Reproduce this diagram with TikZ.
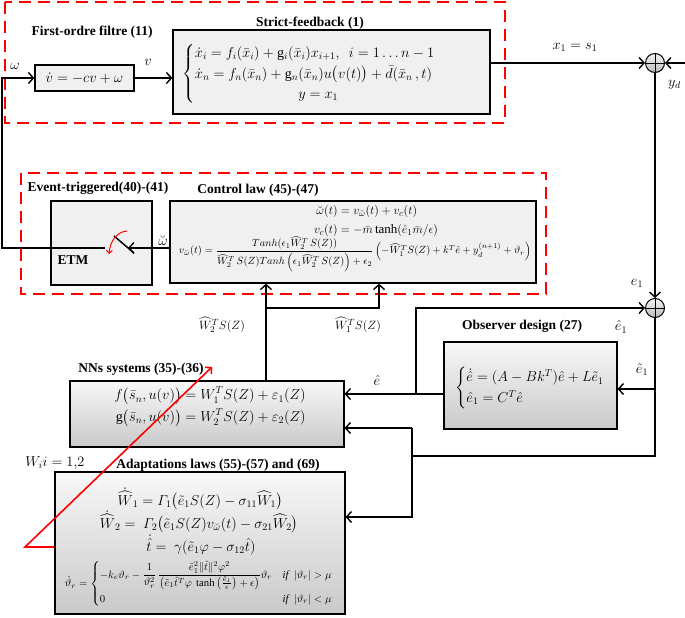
\documentclass[tikz,border=0pt]{standalone}
\usepackage{amsmath,amssymb}
\usepackage{fontspec}
\setmainfont{Liberation Serif}
\usetikzlibrary{arrows.meta}
\begin{document}
\begin{tikzpicture}[x=1pt,y=-1pt,
  box/.style={draw, line width=1.3pt, fill=gray!12, rectangle, inner sep=0pt},
  gbox/.style={draw, line width=1.1pt, top color=gray!6, bottom color=gray!42, rectangle, inner sep=0pt},
  ttl/.style={font=\fontsize{13.5}{15}\selectfont\bfseries, inner sep=0pt},
  lbl/.style={font=\fontsize{14}{16}\selectfont, inner sep=0pt},
  eq/.style={font=\fontsize{14}{17}\selectfont, inner sep=0pt},
  seq/.style={font=\fontsize{13}{16}\selectfont, inner sep=0pt},
  redbox/.style={red, line width=2.6pt, dash pattern=on 12pt off 7pt},
  arr/.style={-{Straight Barb[length=5pt,width=11pt,line width=1.4pt]}, line width=1.4pt},
  thk/.style={line width=2.2pt},
  wire/.style={line width=1.4pt},
  sumn/.style={circle, draw, line width=1pt, minimum size=19pt, inner sep=0pt, top color=gray!8, bottom color=gray!55}
]
\useasboundingbox (0,0) rectangle (685,618);

% red dashed groups
\draw[redbox] (5,2) rectangle (505,123);
\draw[redbox] (21,173) rectangle (546,294);

% blocks
\node[box, minimum width=99pt, minimum height=26pt] (filter) at (84.5,78) {};
\node[box, minimum width=317pt, minimum height=84pt] (strict) at (331.5,72) {};
\node[box, minimum width=101pt, minimum height=84pt] (etm) at (101.5,243) {};
\node[box, minimum width=366pt, minimum height=82pt] (ctrl) at (353,242) {};
\node[gbox, minimum width=274pt, minimum height=66pt] (nn) at (207,414) {};
\node[gbox, minimum width=173pt, minimum height=87pt] (obs) at (530.5,385.5) {};
\node[gbox, minimum width=290pt, minimum height=142pt] (adapt) at (200,543) {};
\node[sumn] (sum1) at (655,63) {};
\node[sumn] (sum2) at (655,308) {};
\draw[line width=0.8pt] (sum1.north) -- (sum1.south) (sum1.west) -- (sum1.east);
\draw[line width=0.8pt] (sum2.north) -- (sum2.south) (sum2.west) -- (sum2.east);

% titles
\node[ttl] (t1) at (92,32) {First-ordre filtre (11)};
\node[ttl] (t2) at (310,23) {Strict-feedback (1)};
\node[ttl] (t3) at (98,188) {Event-triggered(40)-(41)};
\node[ttl] (t4) at (258,190) {Control law (45)-(47)};
\node[ttl] (t5) at (73,260) {ETM};
\node[ttl] (t6) at (141,369) {NNs systems (35)-(36)};
\node[ttl] (t7) at (522,326) {Observer design (27)};
\node[ttl] (t8) at (218,465) {Adaptations laws (55)-(57) and (69)};

% equations
\node[eq] (e1) at (filter) {$\dot v=-cv+\omega$};
\node[eq] (e2) at (316,74) {$\begin{cases}\dot x_i=f_i(\bar x_i)+\mathrm{g}_i(\bar x_i)x_{i+1},\ \ i=1\dots n-1\\
\dot x_n=f_n(\bar x_n)+\mathrm{g}_n(\bar x_n)u\big(v(t)\big)+\bar d(\bar x_n\,,t)\\
\hphantom{\dot x_n=f_n(\bar x_n)+\mathrm{g}_n}y=x_1\end{cases}$};
\node[seq] (e3) at (376,221) {$\begin{aligned}\breve\omega(t)&=v_{\breve\omega}(t)+v_c(t)\\ v_c(t)&=-\bar m\tanh(\hat e_1\bar m/\epsilon)\end{aligned}$};
\node[inner sep=0pt] (e4) at (355,254) {\resizebox{352pt}{!}{$v_{\breve\omega}(t)=\dfrac{Tanh(\epsilon_1\widehat W_2^T\,S(Z))}{\widehat W_2^T\,S(Z)Tanh\left(\epsilon_1\widehat W_2^T\,S(Z)\right)+\epsilon_2}\left(-\widehat W_1^TS(Z)+k^T\hat e+y_d^{(n+1)}+\vartheta_r\right)$}};
\node[eq, anchor=west] (e5) at (455,388) {$\begin{cases}\dot{\hat e}=(A-Bk^T)\hat e+L\tilde e_1\\ \hat e_1=C^T\hat e\end{cases}$};
\node[eq] (e6) at (210,407) {$\begin{aligned}f\big(\bar s_n,u(v)\big)&=W_1^TS(Z)+\varepsilon_1(Z)\\ \mathrm{g}\big(\bar s_n,u(v)\big)&=W_2^TS(Z)+\varepsilon_2(Z)\end{aligned}$};
\node[eq] (e7) at (200,499) {$\dot{\widehat W}_1=\varGamma_1\big(\tilde e_1S(Z)-\sigma_{11}\widehat W_1\big)$};
\node[eq] (e8) at (199,522) {$\dot{\widehat W}_2=\ \varGamma_2\big(\tilde e_1S(Z)v_{\breve\omega}(t)-\sigma_{21}\widehat W_2\big)$};
\node[eq] (e9) at (201,545) {$\dot{\hat t}=\ \gamma(\tilde e_1\varphi-\sigma_{12}\hat t)$};
\node[inner sep=0pt] (e10) at (199,584) {\resizebox{268pt}{!}{$\dot\vartheta_r=\begin{cases}-k_e\vartheta_r-\dfrac{1}{\vartheta_r^2}\,\dfrac{\tilde e_1^2\|\hat t\|^2\varphi^2}{\left(\tilde e_1\hat t^T\varphi\ \tanh\left(\frac{\tilde e_1}{\epsilon}\right)+\epsilon\right)}\vartheta_r & \mathit{if}\ \ |\vartheta_r|>\mu\\[8pt]
0 & \mathit{if}\ \ |\vartheta_r|<\mu\end{cases}$}};

% connector labels
\node[lbl] (lw) at (15,66) {$\omega$};
\node[lbl] (lv) at (148,62) {$v$};
\node[lbl] (lx) at (575,47) {$x_1=s_1$};
\node[lbl, anchor=west] (lyd) at (668,85) {$y_d$};
\node[lbl] (le1) at (637,283) {$e_1$};
\node[lbl] (lhe1) at (621,327) {$\hat e_1$};
\node[lbl] (lte1) at (642,370) {$\tilde e_1$};
\node[lbl] (lhe) at (377,380) {$\hat e$};
\node[lbl] (lbw) at (163,240) {$\breve\omega$};
\node[lbl, font=\fontsize{12.5}{14}\selectfont] (lw2) at (222,325) {$\widehat W_2^TS(Z)$};
\node[lbl, font=\fontsize{12.5}{14}\selectfont] (lw1) at (358,325) {$\widehat W_1^TS(Z)$};
\node[lbl] (lwi) at (55,463) {$W_ii=1{,}2$};

% coordinates
\coordinate (sw) at (105,248);
\coordinate (swtip) at (128,248);
\coordinate (lft) at (2,248);
\coordinate (yd) at (685,63);
\coordinate (br) at (266,308);
\coordinate (br2) at (379,308);
\coordinate (ehy) at (416,394);
\coordinate (rb) at (655,456);
\coordinate (rbl) at (412,456);
\coordinate (ad) at (412,517);
\coordinate (nnin) at (412,428);
\coordinate (obin) at (655,389);
\coordinate (rc) at (25,547);
\coordinate (rtip) at (212,367);

% connectors
\draw[arr, line width=1.8pt] (sw) -- (lft) |- (filter.west);
\draw[arr, thk] (filter.east) -- (filter.east -| strict.west);
\draw[arr, thk] (sum1.west -| strict.east) -- (sum1.west);
\draw[arr] (yd) -- (sum1.east);
\draw[arr] (sum1.south) -- (sum2.north);
\draw[arr] (ctrl.west |- sw) -- (swtip);
\draw[line width=1.5pt] (114,236) -- (134,253);
\draw[red, line width=1pt, -{Straight Barb[length=3pt,width=6pt]}] (127,231) .. controls (116,232) and (110,242) .. (109,254);
\draw[arr] (br |- nn.north) -- (br |- ctrl.south);
\draw[arr] (br) -- (br2) -- (br2 |- ctrl.south);
\draw[arr, thk] (ehy -| obs.west) -- (ehy -| nn.east);
\draw[arr, thk] (ehy) |- (sum2.west);
\draw[wire] (sum2.south) -- (rb) -- (rbl);
\draw[arr] (nnin) -- (nnin -| nn.east);
\draw[arr] (nnin) -- (ad) -- (ad -| adapt.east);
\draw[arr] (obin) -- (obin -| obs.east);
\draw[red, line width=1.6pt, -{Straight Barb[length=4pt,width=9pt,line width=1.6pt]}] (rc -| adapt.west) -- (rc) -- (rtip);
\end{tikzpicture}
\end{document}
